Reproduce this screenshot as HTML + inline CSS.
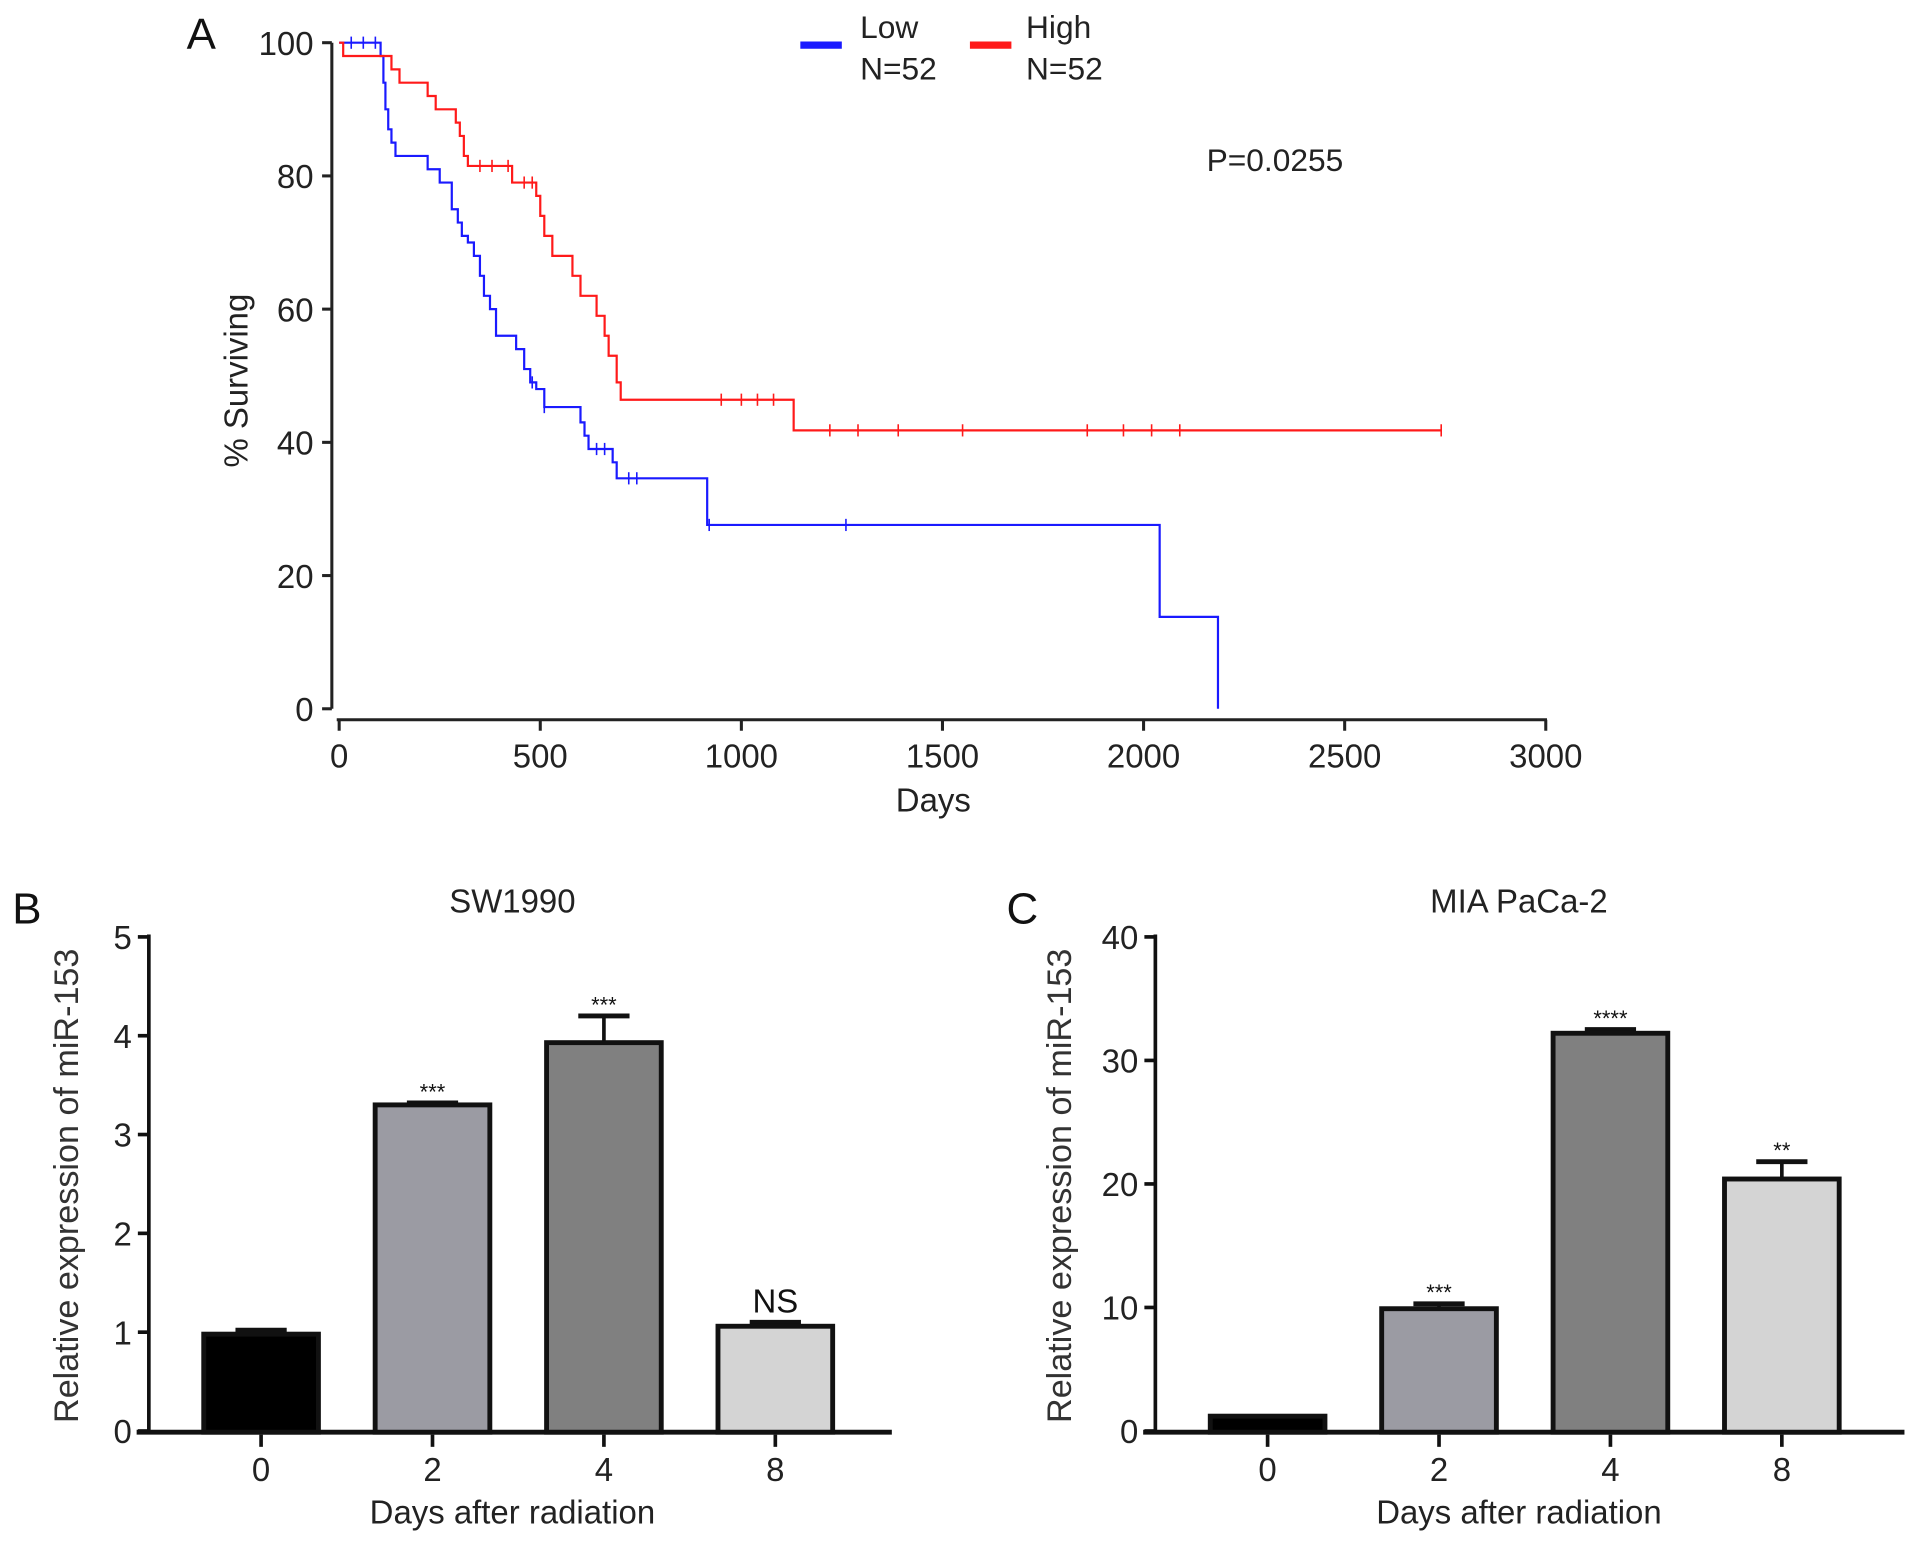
<!DOCTYPE html>
<html><head><meta charset="utf-8"><style>
html,body{margin:0;padding:0;background:#fff;}
svg{display:block;font-family:"Liberation Sans",Arial,sans-serif;}
</style></head><body>
<svg id="fig" width="1913" height="1542" viewBox="0 0 1568 1264" preserveAspectRatio="none"></svg>
<script>
// ---------- Panel A data ----------
const lowDays   = [0,103,110,115,122,130,140,220,250,280,295,305,320,335,350,360,375,390,440,460,475,490,510,600,610,620,680,690,915,2040,2185];
const lowVals   = [100,98,94,90,87,85,83,81,79,75,73,71,70,68,65,62,60,56,54,51,49,48,45.3,43,41,39,37,34.6,27.6,13.8,0];
const lowCensor = [30,60,90,480,510,640,660,720,740,920,1260];
const highDays  = [0,10,130,150,220,240,290,300,310,320,430,490,500,510,530,580,600,640,660,670,690,700,1130];
const highVals  = [100,98,96,94,92,90,88,86,83,81.5,79,77,74,71,68,65,62,59,56,53,49,46.4,41.8];
const highEnd   = 2740;
const highCensor= [350,380,420,460,480,950,1000,1040,1080,1220,1290,1390,1550,1860,1950,2020,2090,2740];
const xTicksA = [0,500,1000,1500,2000,2500,3000];
const yTicksA = [0,20,40,60,80,100];
// ---------- Panel B/C data ----------
const cats = ["0","2","4","8"];
const valsB = [0.98,3.3,3.93,1.06];
const errB  = [0.04,0.02,0.27,0.04];
const sigB  = ["","***","***","NS"];
const yTicksB = [0,1,2,3,4,5];
const valsC = [1.2,9.9,32.2,20.4];
const errC  = [0,0.4,0.3,1.4];
const sigC  = ["","***","****","**"];
const yTicksC = [0,10,20,30,40];
const fills = ["#000000","#9b9ba3","#808080","#d4d4d4"];

const NS="http://www.w3.org/2000/svg";
const svg=document.getElementById('fig');
function mk(tag,attrs,parent){const e=document.createElementNS(NS,tag);for(const k in attrs)e.setAttribute(k,attrs[k]);(parent||svg).appendChild(e);return e;}
function txt(s,x,y,size,anchor,parent,extra){const t=mk('text',Object.assign({x:x,y:y,'font-size':size,'text-anchor':anchor||'middle',fill:'#222'},extra||{}),parent);t.textContent=s;return t;}

// ---- Panel A ----
const gA=mk('g',{});


const ax=d=>278+d*(1267-278)/3000;
const ay=v=>581-v*(581-35)/100;
mk('line',{x1:272,y1:35,x2:272,y2:581,stroke:'#222','stroke-width':2.5},gA);
yTicksA.forEach(v=>{mk('line',{x1:264,y1:ay(v),x2:272,y2:ay(v),stroke:'#222','stroke-width':2.5},gA);
 const t=txt(String(v),257,ay(v)+10,27,'end',gA);});
mk('line',{x1:276,y1:590,x2:1268,y2:590,stroke:'#222','stroke-width':2.5},gA);
xTicksA.forEach(d=>{mk('line',{x1:ax(d),y1:590,x2:ax(d),y2:599,stroke:'#222','stroke-width':2.5},gA);
 const t=txt(String(d),ax(d),629,27,'middle',gA);});
let t=txt('Days',765,665,27,'middle',gA);
t=txt('% Surviving',0,0,27,'middle',gA,{transform:'translate(203,312) rotate(-90)'});
t=txt('A',165,40,36,'middle',gA,{fill:'#111'});
t=txt('P=0.0255',1045,140,26,'middle',gA);
function stepPath(days,vals,end){let d='M'+ax(days[0])+','+ay(vals[0]);for(let i=1;i<days.length;i++){d+=' H'+ax(days[i])+' V'+ay(vals[i]);}if(end!==undefined)d+=' H'+ax(end);return d;}
function valAt(days,vals,x){let v=vals[0];for(let i=0;i<days.length;i++){if(days[i]<=x)v=vals[i];}return v;}
const pl=mk('path',{d:stepPath(lowDays,lowVals),fill:'none',stroke:'#1a1aff','stroke-width':1.8},gA);

const ph=mk('path',{d:stepPath(highDays,highVals,highEnd),fill:'none',stroke:'#ff1a1a','stroke-width':1.8},gA);

lowCensor.forEach(c=>{const y=ay(valAt(lowDays,lowVals,c));const m=mk('line',{x1:ax(c),x2:ax(c),y1:y-5,y2:y+5,stroke:'#1a1aff','stroke-width':1.3},gA);});
highCensor.forEach(c=>{const y=ay(valAt(highDays,highVals,c));const m=mk('line',{x1:ax(c),x2:ax(c),y1:y-5,y2:y+5,stroke:'#ff1a1a','stroke-width':1.3},gA);});
// legend
const lg=mk('g',{},gA);


mk('line',{x1:656,y1:37,x2:690,y2:37,stroke:'#1a1aff','stroke-width':6},lg);
txt('Low',705,31,26,'start',lg);txt('N=52',705,65,26,'start',lg);
mk('line',{x1:795,y1:37,x2:829,y2:37,stroke:'#ff1a1a','stroke-width':6},lg);
txt('High',841,31,26,'start',lg);txt('N=52',841,65,26,'start',lg);

// ---- Bar panels ----
function barPanel(o){
 const g=mk('g',{});
 
 
 const by=v=>1173-v*(1173-768)/o.ymax;
 const cx=i=>o.x0+i*140.5;
 mk('line',{x1:o.ax,y1:766,x2:o.ax,y2:1175,stroke:'#111','stroke-width':3},g);
 o.ticks.forEach(v=>{mk('line',{x1:o.ax-9,y1:by(v),x2:o.ax,y2:by(v),stroke:'#111','stroke-width':3},g);
  const tt=txt(String(v),o.ax-14,by(v)+10,27,'end',g);});
 mk('line',{x1:o.ax-10,y1:1174,x2:o.axEnd,y2:1174,stroke:'#111','stroke-width':4},g);
 o.vals.forEach((v,i)=>{
  const x=cx(i),top=by(v),e=by(v+o.err[i]);
  if(o.err[i]>0){mk('line',{x1:x,x2:x,y1:e,y2:top,stroke:'#111','stroke-width':3},g);
   mk('line',{x1:x-21,x2:x+21,y1:e,y2:e,stroke:'#111','stroke-width':4},g);}
  const r=mk('rect',{x:x-47,y:top,width:94,height:1174-top,fill:o.fills[i],stroke:'#111','stroke-width':4},g);
  
  
  mk('line',{x1:x,x2:x,y1:1176,y2:1186,stroke:'#111','stroke-width':3},g);
  const tl=txt(o.cats[i],x,1214,27,'middle',g);
  if(o.sig[i]){const isNS=o.sig[i]==='NS';const s=txt(o.sig[i],x,isNS?e-8:e-3,isNS?27:18,'middle',g,{fill:'#111'});}
 });
 let tt=txt(o.title,o.titleX,748,27,'middle',g);
 tt=txt(o.label,o.labelX,757,36,'middle',g,{fill:'#111'});
 tt=txt('Days after radiation',o.titleX,1249,27,'middle',g);
 tt=txt('Relative expression of miR-153',0,0,28,'middle',g,{transform:'translate('+o.ylx+',972) rotate(-90)',fill:'#333'});
}
barPanel({name:'sw1990-bar-chart',ax:122,axEnd:731,x0:214,ymax:5,ticks:yTicksB,vals:valsB,err:errB,sig:sigB,cats:cats,fills:fills,title:'SW1990',titleX:420,label:'B',labelX:22,ylx:64});
barPanel({name:'miapaca2-bar-chart',ax:947,axEnd:1561,x0:1039,ymax:40,ticks:yTicksC,vals:valsC,err:errC,sig:sigC,cats:cats,fills:fills,title:'MIA PaCa-2',titleX:1245,label:'C',labelX:838,ylx:878});
</script>
</body></html>
